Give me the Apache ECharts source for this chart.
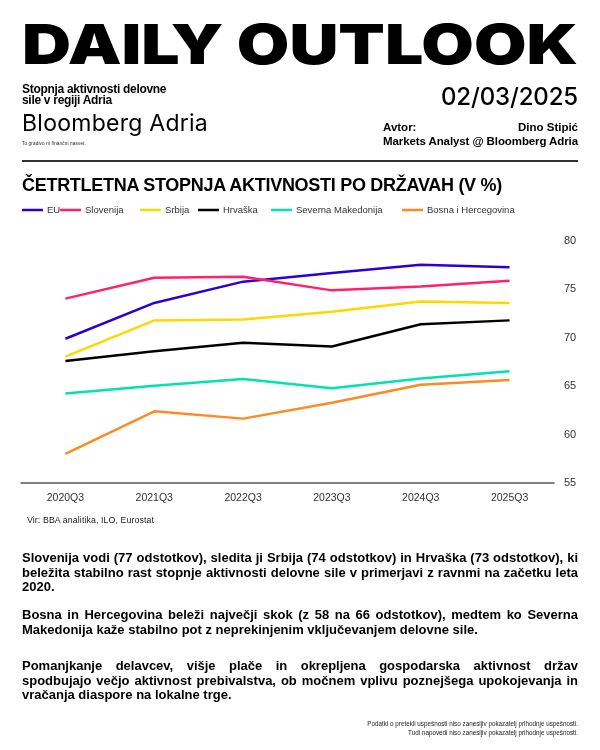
<!DOCTYPE html>
<html><head><meta charset="utf-8">
<script src="https://cdn.jsdelivr.net/npm/echarts@6/dist/echarts.min.js"></script>
<style>
html,body{margin:0;padding:0;background:#fff;}
#page{position:relative;width:600px;height:750px;overflow:hidden;background:#fff;}
#chart{position:absolute;left:0;top:0;width:600px;height:750px;}
.t{position:absolute;white-space:nowrap;color:#000;font-family:"Liberation Sans",Arial,sans-serif;}
.fit,.sfit{display:inline-block;}
.sfit{transform-origin:0 0;}
#rule{position:absolute;left:22px;top:160px;width:556px;height:1.5px;background:#333;}
.para{position:absolute;left:22px;width:556px;font-family:"Liberation Sans",Arial,sans-serif;font-weight:700;font-size:13px;line-height:14.7px;color:#000;}
.para div{white-space:nowrap;overflow:visible;}
.para div.j{text-align:justify;text-align-last:justify;}
</style></head>
<body><div id="page">
<div id="chart"></div>
<div class="t" style="left:22px;top:17px;font-family:Inter,sans-serif;font-weight:900;font-size:55px;line-height:55px;"><span class="sfit" data-w="556">DAILY OUTLOOK</span></div>
<div class="t" style="left:22px;top:83px;font-weight:700;font-size:12px;line-height:12px;letter-spacing:-0.3px;">Stopnja aktivnosti delovne</div>
<div class="t" style="left:22px;top:94px;font-weight:700;font-size:12px;line-height:12px;letter-spacing:-0.3px;">sile v regiji Adria</div>
<div class="t" style="right:22px;top:84px;font-size:24px;line-height:26px;font-weight:500;font-family:Inter,sans-serif;"><span class="fit" data-w="137">02/03/2025</span></div>
<div class="t" style="left:22px;top:110px;font-size:23px;line-height:26px;font-family:Inter,sans-serif;font-weight:400;"><span class="fit" data-w="186">Bloomberg Adria</span></div>
<div class="t" style="left:22px;top:141px;font-size:4.6px;line-height:6px;color:#222;"><span class="fit" data-w="64">To gradivo ni finančni nasvet.</span></div>
<div class="t" style="left:383px;top:121px;font-size:11.5px;line-height:12px;font-weight:700;"><span>Avtor:</span></div>
<div class="t" style="right:22px;top:121px;font-size:11.5px;line-height:12px;font-weight:700;"><span class="fit" data-w="60">Dino Stipić</span></div>
<div class="t" style="right:22px;top:135px;font-size:11.5px;line-height:12px;font-weight:700;"><span class="fit" data-w="195">Markets Analyst @ Bloomberg Adria</span></div>
<div id="rule"></div>
<div class="t" style="left:22px;top:175px;font-size:18px;line-height:20px;font-weight:700;"><span class="fit" data-w="480">ČETRTLETNA STOPNJA AKTIVNOSTI PO DRŽAVAH (V %)</span></div>
<div class="t" style="left:27px;top:515px;font-size:8.8px;line-height:11px;color:#222;"><span class="fit" data-w="127">Vir: BBA analitika, ILO, Eurostat</span></div>
<div class="para" id="p1" style="top:551px;">
<div class="j">Slovenija vodi (77 odstotkov), sledita ji Srbija (74 odstotkov) in Hrvaška (73 odstotkov), ki</div>
<div class="j">beležita stabilno rast stopnje aktivnosti delovne sile v primerjavi z ravnmi na začetku leta</div>
<div>2020.</div>
</div>
<div class="para" id="p2" style="top:608px;">
<div class="j">Bosna in Hercegovina beleži največji skok (z 58 na 66 odstotkov), medtem ko Severna</div>
<div>Makedonija kaže stabilno pot z neprekinjenim vključevanjem delovne sile.</div>
</div>
<div class="para" id="p3" style="top:659px;">
<div class="j">Pomanjkanje delavcev, višje plače in okrepljena gospodarska aktivnost držav</div>
<div class="j">spodbujajo večjo aktivnost prebivalstva, ob močnem vplivu poznejšega upokojevanja in</div>
<div>vračanja diaspore na lokalne trge.</div>
</div>
<div class="t" style="right:22px;top:720px;font-size:6.3px;line-height:8.5px;color:#222;text-align:right;">Podatki o pretekli uspešnosti niso zanesljiv pokazatelj prihodnje uspešnosti.<br>Tudi napovedi niso zanesljiv pokazatelj prihodnje uspešnosti.</div>
</div>
<script>
// ---- data ----
const categories = ['2020Q3','2021Q3','2022Q3','2023Q3','2024Q3','2025Q3'];
const seriesNames = ['EU','Slovenija','Srbija','Hrvaška','Severna Makedonija','Bosna i Hercegovina'];
const euValues = [69.9, 73.6, 75.8, 76.7, 77.55, 77.3];
const sloveniaValues = [74.05, 76.2, 76.3, 74.9, 75.3, 75.9];
const serbiaValues = [68.05, 71.8, 71.9, 72.7, 73.75, 73.6];
const croatiaValues = [67.6, 68.6, 69.5, 69.1, 71.4, 71.8];
const northMacedoniaValues = [64.25, 65.05, 65.75, 64.8, 65.8, 66.55];
const bihValues = [58.0, 62.4, 61.65, 63.3, 65.15, 65.65];
const yTicks = [55, 60, 65, 70, 75, 80];

// ---- fit text widths ----
document.querySelectorAll('.fit').forEach(el => {
  const target = parseFloat(el.dataset.w);
  el.style.letterSpacing = '0px';
  const w = el.getBoundingClientRect().width;
  const n = el.textContent.length;
  el.style.letterSpacing = ((target - w) / n) + 'px';
});
document.querySelectorAll('.sfit').forEach(el => {
  const target = parseFloat(el.dataset.w);
  const w = el.getBoundingClientRect().width;
  el.style.transform = 'scaleX(' + (target / w) + ')';
});
// paragraphs: common letter spacing so longest line fits
(function(){
  const paras = document.querySelectorAll('.para');
  const lines = [];
  paras.forEach(p => p.querySelectorAll('div').forEach(d => lines.push(d)));
  let best = 0;
  lines.forEach(d => {
    const s = document.createElement('span');
    s.textContent = d.textContent;
    s.style.whiteSpace = 'nowrap';
    d.textContent = ''; d.appendChild(s);
    const w = s.getBoundingClientRect().width;
    const need = (556 - w) / s.textContent.length;
    if (d.classList.contains('j')) best = Math.min(best, need);
    d.textContent = s.textContent;
  });
  paras.forEach(p => p.style.letterSpacing = best + 'px');
})();

const colors = ['#2a00d6','#ff2268','#ffd800','#000000','#00e3b0','#ff8a22'];
const valueLists = [euValues, sloveniaValues, serbiaValues, croatiaValues, northMacedoniaValues, bihValues];
const legendLefts = [22, 60, 140, 198, 271, 402];

const chart = echarts.init(document.getElementById('chart'), null, {renderer:'canvas'});
chart.setOption({
  animation: false,
  color: colors,
  grid: {left: 21, right: 46, top: 241, bottom: 267, containLabel: false},
  legend: seriesNames.map((n, i) => ({
    data: [n], left: legendLefts[i], top: 205, padding: 0,
    icon: 'rect', itemWidth: 21, itemHeight: 2.5, itemGap: 0,
    textStyle: {fontSize: 9.5, color: '#333', fontFamily: 'Liberation Sans', padding: [0,0,0,-1]}
  })),
  xAxis: {
    type: 'category', data: categories, boundaryGap: true,
    axisLine: {lineStyle: {color: '#555', width: 1.5}},
    axisTick: {show: false},
    axisLabel: {margin: 10, fontSize: 10.5, color: '#333', fontFamily: 'Liberation Sans'}
  },
  yAxis: {
    type: 'value', position: 'right', min: yTicks[0], max: yTicks[yTicks.length-1], interval: 5,
    axisLine: {show: false}, axisTick: {show: false}, splitLine: {show: false},
    axisLabel: {margin: 10, fontSize: 11, color: '#333', fontFamily: 'Liberation Sans', padding: [0,0,5,0]}
  },
  series: seriesNames.map((n, i) => ({
    name: n, type: 'line', data: valueLists[i], symbol: 'none',
    lineStyle: {width: 2.5, color: colors[i]}, itemStyle: {color: colors[i]}
  }))
});
</script>
</body></html>
